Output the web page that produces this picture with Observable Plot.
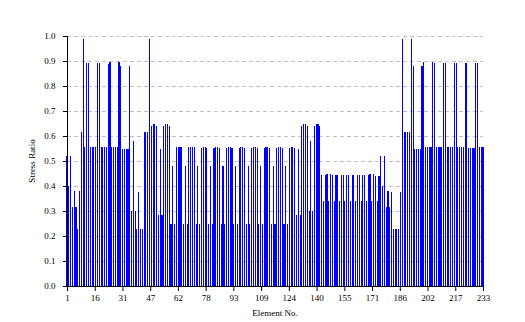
<!DOCTYPE html>
<html>
<head>
<meta charset="utf-8">
<script src="https://cdn.jsdelivr.net/npm/d3@7"></script>
<script src="https://cdn.jsdelivr.net/npm/@observablehq/plot@0.6"></script>
<style>
  html, body { margin: 0; padding: 0; background: #fff; }
  #chart { width: 525px; height: 322px; }
</style>
</head>
<body>
<div id="chart"></div>
<script>
// Stress ratio per element (elements 1..233)
const stressRatio = [
  0.52,0.40,0.52,0.317,0.38,0.317,0.228,0.38,0.617,0.988,
  0.557,0.892,0.892,0.557,0.557,0.557,0.557,0.892,0.892,0.557,
  0.557,0.557,0.557,0.89,0.896,0.557,0.557,0.557,0.557,0.896,
  0.88,0.55,0.55,0.55,0.55,0.88,0.30,0.58,0.30,0.228,
  0.377,0.228,0.228,0.616,0.616,0.616,0.988,0.639,0.65,0.65,
  0.639,0.284,0.548,0.284,0.639,0.65,0.65,0.639,0.248,0.48,
  0.248,0.556,0.556,0.556,0.556,0.248,0.48,0.248,0.556,0.556,
  0.556,0.556,0.248,0.48,0.248,0.552,0.556,0.556,0.552,0.248,
  0.48,0.248,0.552,0.556,0.556,0.552,0.248,0.48,0.248,0.552,
  0.556,0.556,0.552,0.248,0.48,0.248,0.552,0.556,0.556,0.552,
  0.248,0.48,0.248,0.552,0.556,0.556,0.552,0.248,0.48,0.248,
  0.552,0.556,0.556,0.552,0.248,0.48,0.248,0.552,0.556,0.556,
  0.552,0.248,0.48,0.248,0.552,0.556,0.556,0.552,0.284,0.548,
  0.284,0.639,0.65,0.65,0.639,0.30,0.58,0.30,0.639,0.65,
  0.65,0.639,0.443,0.34,0.443,0.447,0.34,0.447,0.443,0.34,
  0.443,0.443,0.34,0.443,0.443,0.34,0.443,0.443,0.34,0.443,
  0.443,0.34,0.443,0.443,0.34,0.443,0.443,0.34,0.443,0.447,
  0.34,0.447,0.44,0.34,0.44,0.52,0.40,0.52,0.315,0.38,
  0.315,0.377,0.228,0.228,0.228,0.228,0.377,0.988,0.616,0.616,
  0.616,0.616,0.988,0.88,0.548,0.548,0.548,0.548,0.88,0.896,
  0.556,0.556,0.556,0.556,0.896,0.892,0.556,0.556,0.556,0.556,
  0.892,0.892,0.556,0.556,0.556,0.556,0.892,0.892,0.556,0.556,
  0.556,0.556,0.892,0.892,0.552,0.552,0.552,0.552,0.892,0.892,
  0.556,0.556,0.556
];
const elementCount = 233;
const xTickLabels = ["1","16","31","47","62","78","93","109","124","140","155","171","186","202","217","233"];
const yTicks = [0,0.1,0.2,0.3,0.4,0.5,0.6,0.7,0.8,0.9,1.0];
const xTitle = "Element No.";
const yTitle = "Stress Ratio";

const data = stressRatio.map((v, i) => ({element: i + 1, ratio: v}));
// ticks are evenly spaced over the element range; labels are the truncated element numbers
const xTickPos = xTickLabels.map((_, k) => 1 + k * (elementCount - 1) / (xTickLabels.length - 1));
const labelAt = new Map(xTickPos.map((p, k) => [p, xTickLabels[k]]));

const chart = Plot.plot({
  width: 525,
  height: 322,
  marginLeft: 67,
  marginRight: 42,
  marginTop: 36,
  marginBottom: 36,
  style: {fontFamily: "'Liberation Serif', serif", fontSize: "9px", background: "#fff", color: "#000"},
  x: {type: "linear", domain: [1, elementCount]},
  y: {domain: [0, 1]},
  marks: [
    Plot.gridY(yTicks.filter(d => d > 0), {stroke: "#c0c0c0", strokeOpacity: 1, strokeDasharray: "4,3"}),
    Plot.rectY(data, {
      x1: d => d.element - 0.3,
      x2: d => d.element + 0.3,
      y: "ratio",
      fill: "#0000ff",
      shapeRendering: "crispEdges"
    }),
    Plot.frame({anchor: "left", stroke: "#000"}),
    Plot.frame({anchor: "bottom", stroke: "#000"}),
    Plot.axisY(yTicks, {tickSize: 4, tickPadding: 8, tickFormat: d => d.toFixed(1), label: null, fontSize: 9}),
    Plot.axisX(xTickPos, {tickSize: 5, tickPadding: 3, tickFormat: d => labelAt.get(d), label: null, fontSize: 9})
  ]
});

document.getElementById("chart").appendChild(chart);

const svg = d3.select(chart);
svg.append("text")
  .attr("x", 275).attr("y", 316)
  .attr("text-anchor", "middle")
  .attr("font-family", "'Liberation Serif', serif")
  .attr("font-size", 9)
  .attr("fill", "#000")
  .text(xTitle);
svg.append("text")
  .attr("transform", "translate(35,161) rotate(-90)")
  .attr("text-anchor", "middle")
  .attr("font-family", "'Liberation Serif', serif")
  .attr("font-size", 9)
  .attr("fill", "#000")
  .text(yTitle);
</script>
</body>
</html>
